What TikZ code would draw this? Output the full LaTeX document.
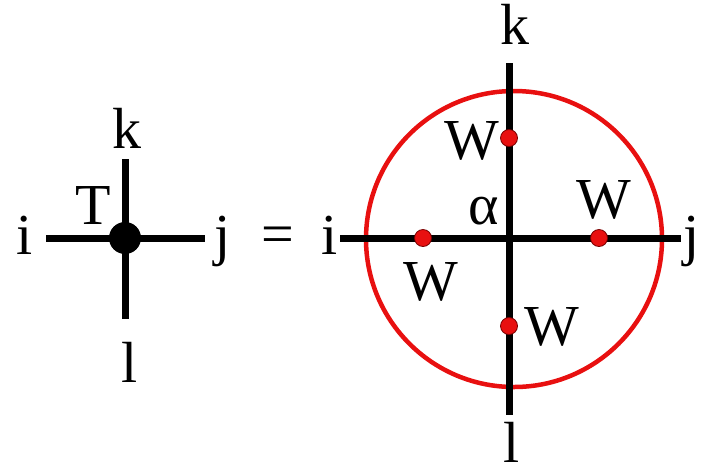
\documentclass[tikz,border=0pt]{standalone}
\usepackage{fontspec}
\setmainfont{Liberation Serif}
\newfontfamily\tms{Liberation Serif}
\definecolor{ringred}{RGB}{232,16,16}
\definecolor{dotedge}{RGB}{120,0,0}
\tikzset{
  lbl/.style={anchor=base,inner sep=0pt,font=\tms\fontsize{58}{60}\selectfont},
  leg/.style={line width=7pt},
  bigdot/.style={circle,fill=black,inner sep=0pt,minimum size=32pt},
  wdot/.style={circle,fill=ringred,draw=dotedge,line width=0.8pt,inner sep=0pt,minimum size=17pt},
  ring/.style={circle,draw=ringred,line width=4.5pt,inner sep=0pt,minimum size=296pt}
}
\begin{document}
\begin{tikzpicture}[x=1pt,y=-1pt]
\useasboundingbox (0,0) rectangle (706,475);
% left tensor
\coordinate (Li) at (46,238);
\coordinate (Lj) at (205,238);
\coordinate (Lk) at (125,159);
\coordinate (Ll) at (125,319);
\draw[leg] (Li) -- (Lj);
\draw[leg] (Lk) -- (Ll);
\node[bigdot] (T) at (125,238) {};
\node[lbl] (ti) at (25,254) {i};
\node[lbl] (tj) at (223,254) {j};
\node[lbl] (tk) at (127,148) {k};
\node[lbl] (tl) at (130,382) {l};
\node[lbl] (tT) at (93,224) {T};
\node[lbl] (eq) at (278,253) {=};
% right network
\node[ring] (R) at (514,239) {};
\coordinate (Ri) at (340,238);
\coordinate (Rj) at (681,238);
\coordinate (Rk) at (509,63);
\coordinate (Rl) at (509,415);
\draw[leg] (Ri) -- (Rj);
\draw[leg] (Rk) -- (Rl);
\node[wdot] (Wt) at (509,138) {};
\node[wdot] (Wl) at (423,238) {};
\node[wdot] (Wr) at (599,238) {};
\node[wdot] (Wb) at (509,326) {};
\node[lbl] (ri) at (330,254) {i};
\node[lbl] (rj) at (692,254) {j};
\node[lbl] (rk) at (515,44) {k};
\node[lbl] (rl) at (512,462) {l};
\node[lbl] (ra) at (484,224) {α};
\node[lbl] (lWt) at (472,159) {W};
\node[lbl] (lWr) at (604,218) {W};
\node[lbl] (lWl) at (431,300) {W};
\node[lbl] (lWb) at (552,345) {W};
\end{tikzpicture}
\end{document}
